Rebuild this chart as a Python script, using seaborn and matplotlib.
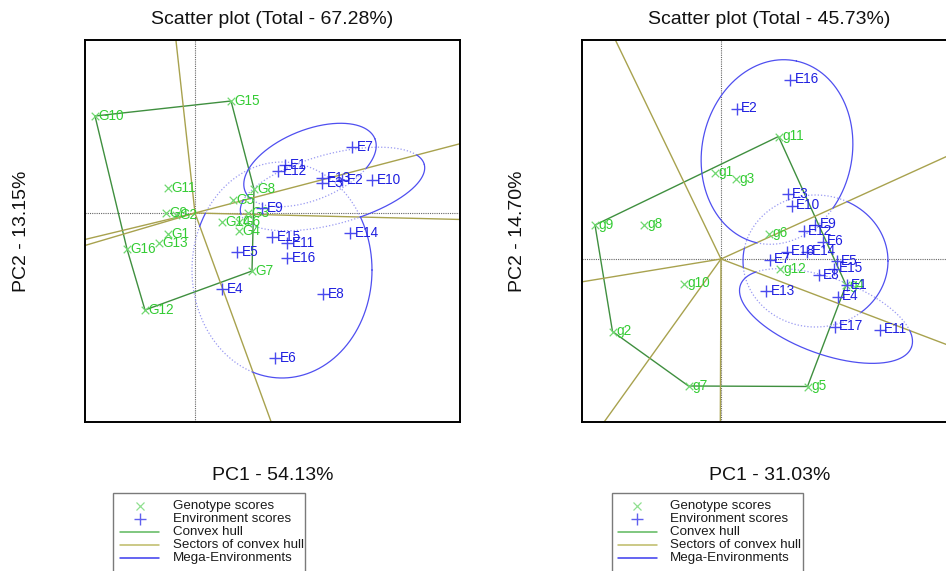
import numpy as np
import pandas as pd
import matplotlib
matplotlib.use("Agg")
import matplotlib.pyplot as plt
from matplotlib.lines import Line2D
from matplotlib.patches import Rectangle
import seaborn as sns

# ------------------------- data: left biplot -------------------------
L_title = "Scatter plot (Total - 67.28%)"
L_xlabel = "PC1 - 54.13%"
L_ylabel = "PC2 - 13.15%"
L_gen_names = ["G1", "G2", "G3", "G4", "G5", "G6", "G7", "G8",
               "G9", "G10", "G11", "G12", "G13", "G14", "G15", "G16"]
L_gen_pc1 = [-0.54, -0.38, 1.06, 0.88, 0.76, 0.88, 1.14, 1.18,
             -0.58, -2.00, -0.54, -1.00, -0.72, 0.54, 0.72, -1.36]
L_gen_pc2 = [-0.42, -0.04, 0.00, -0.36, 0.26, -0.18, -1.16, 0.48,
             0.00, 1.94, 0.50, -1.94, -0.60, -0.18, 2.24, -0.72]
L_env_names = ["E1", "E2", "E3", "E4", "E5", "E6", "E7", "E8",
               "E9", "E10", "E11", "E12", "E13", "E14", "E15", "E16"]
L_env_pc1 = [1.80, 2.94, 2.54, 0.54, 0.84, 1.60, 3.14, 2.56,
             1.34, 3.54, 1.84, 1.66, 2.54, 3.10, 1.54, 1.84]
L_env_pc2 = [0.96, 0.66, 0.60, -1.52, -0.78, -2.90, 1.32, -1.62,
             0.10, 0.66, -0.60, 0.84, 0.70, -0.40, -0.48, -0.90]
L_hull = ["G10", "G15", "G8", "G7", "G12", "G16"]
L_mega_winner = ["G15", "G8", "G7"]
L_mega_cx = [2.30, 2.75, 1.74]
L_mega_cy = [0.96, 0.48, -1.14]
L_mega_a = [1.40, 1.90, 1.80]
L_mega_b = [0.70, 0.70, 2.16]
L_mega_angle = [22, 15, 0]
L_xlim = (-2.20, 5.30)
L_ylim = (-4.18, 3.46)

# ------------------------- data: right biplot ------------------------
R_title = "Scatter plot (Total - 45.73%)"
R_xlabel = "PC1 - 31.03%"
R_ylabel = "PC2 - 14.70%"
R_gen_names = ["g1", "g2", "g3", "g4", "g5", "g6",
               "g7", "g8", "g9", "g10", "g11", "g12"]
R_gen_pc1 = [-0.12, -2.17, 0.29, 2.50, 1.73, 0.95,
             -0.65, -1.55, -2.52, -0.75, 1.15, 1.18]
R_gen_pc2 = [1.73, -1.45, 1.60, -0.52, -2.55, 0.51,
             -2.54, 0.69, 0.68, -0.49, 2.45, -0.20]
R_env_names = ["E1", "E2", "E3", "E4", "E5", "E6", "E7", "E8", "E9",
               "E10", "E11", "E12", "E13", "E14", "E15", "E16", "E17", "E18"]
R_env_pc1 = [2.51, 0.31, 1.33, 2.33, 2.31, 2.03, 0.97, 1.95, 1.88,
             1.41, 3.17, 1.65, 0.90, 1.72, 2.26, 1.38, 2.27, 1.31]
R_env_pc2 = [-0.52, 3.01, 1.30, -0.75, -0.04, 0.35, -0.01, -0.32, 0.69,
             1.07, -1.41, 0.56, -0.64, 0.15, -0.19, 3.59, -1.35, 0.15]
R_hull = ["g9", "g11", "g4", "g5", "g7", "g2"]
R_mega_winner = ["g11", "g4", "g5"]
R_mega_cx = [1.12, 1.89, 2.10]
R_mega_cy = [2.14, -0.04, -1.14]
R_mega_a = [1.86, 1.45, 1.82]
R_mega_b = [1.50, 1.32, 0.76]
R_mega_angle = [78, 0, -20]
R_xlim = (-2.78, 4.72)
R_ylim = (-3.26, 4.38)

LEGEND_LABELS = ["Genotype scores", "Environment scores", "Convex hull",
                 "Sectors of convex hull", "Mega-Environments"]

# ------------------------- style -------------------------
GEN_TXT = "#33cc33"
GEN_MK = "#70d870"
ENV_TXT = "#1f1fe0"
ENV_MK = "#4a4aee"
HULL_C = "#3f8f3f"
SECT_C = "#a8a24e"
ELL_C = "#4f4ff0"
ELL_DOT = "#9a9af2"
AXDOT = "#666666"

sns.set_theme(style="white")
plt.rcParams["font.family"] = ["Liberation Sans", "DejaVu Sans"]

W, H = 946, 571
fig = plt.figure(figsize=(W / 100, H / 100), dpi=100)
fig.patch.set_facecolor("white")


def px_axes(x0, y0, x1, y1):
    return fig.add_axes([x0 / W, 1 - y1 / H, (x1 - x0) / W, (y1 - y0) / H])


def draw_biplot(ax, gnames, gx, gy, enames, ex, ey, hull, winners,
                cx, cy, sa, sb, sang, xlim, ylim):
    ax.set_xlim(*xlim)
    ax.set_ylim(*ylim)
    ax.set_xticks([])
    ax.set_yticks([])
    for sp in ax.spines.values():
        sp.set_color("black")
        sp.set_linewidth(1.4)
    ax.axhline(0, color=AXDOT, ls=(0, (1, 1)), lw=0.8, zorder=1)
    ax.axvline(0, color=AXDOT, ls=(0, (1, 1)), lw=0.8, zorder=1)

    gpos = {n: np.array([x, y]) for n, x, y in zip(gnames, gx, gy)}
    P = np.array([gpos[n] for n in hull])

    # convex hull
    ax.plot(np.r_[P[:, 0], P[0, 0]], np.r_[P[:, 1], P[0, 1]],
            color=HULL_C, lw=1.0, zorder=2)

    # sector rays (perpendicular from origin to each hull edge)
    n = len(P)
    for i in range(n):
        p1, p2 = P[i], P[(i + 1) % n]
        d = p2 - p1
        nv = np.array([d[1], -d[0]])
        if nv @ p1 < 0:
            nv = -nv
        nv = nv / np.linalg.norm(nv)
        ax.plot([0, nv[0] * 30], [0, nv[1] * 30], color=SECT_C, lw=1.0,
                zorder=2)

    # mega-environment ellipses: solid inside own sector, dotted outside
    t = np.linspace(0, 2 * np.pi, 1441)
    for w, x0, y0, a, b, ang in zip(winners, cx, cy, sa, sb, sang):
        th = np.radians(ang)
        x = x0 + a * np.cos(t) * np.cos(th) - b * np.sin(t) * np.sin(th)
        y = y0 + a * np.cos(t) * np.sin(th) + b * np.sin(t) * np.cos(th)
        proj = np.c_[x, y] @ P.T
        win = np.array(hull)[np.argmax(proj, axis=1)]
        m = win == w
        ms = m | np.roll(m, 1) | np.roll(m, -1)
        md = (~m) | np.roll(~m, 1) | np.roll(~m, -1)
        ax.plot(np.where(md, x, np.nan), np.where(md, y, np.nan),
                color=ELL_DOT, lw=0.9, ls=(0, (1, 1.6)), zorder=2)
        ax.plot(np.where(ms, x, np.nan), np.where(ms, y, np.nan),
                color=ELL_C, lw=0.9, zorder=3)

    dg = pd.DataFrame({"pc1": gx, "pc2": gy, "name": gnames})
    de = pd.DataFrame({"pc1": ex, "pc2": ey, "name": enames})
    sns.scatterplot(data=dg, x="pc1", y="pc2", marker="x", color=GEN_MK,
                    s=30, linewidth=0.9, ax=ax, legend=False, zorder=4)
    for _, r in dg.iterrows():
        ax.annotate(r["name"], (r["pc1"], r["pc2"]), xytext=(2.5, 0.3),
                    textcoords="offset points", ha="left", va="center",
                    fontsize=9.8, color=GEN_TXT, zorder=5)
    sns.scatterplot(data=de, x="pc1", y="pc2", marker="+", color=ENV_MK,
                    s=64, linewidth=1.0, ax=ax, legend=False, zorder=6)
    for _, r in de.iterrows():
        ax.annotate(r["name"], (r["pc1"], r["pc2"]), xytext=(3.5, 0.3),
                    textcoords="offset points", ha="left", va="center",
                    fontsize=9.8, color=ENV_TXT, zorder=7)
    ax.set_xlabel("")
    ax.set_ylabel("")


def draw_legend(x0, x1, top, mk_x, ln0, ln1, tx):
    fig.add_artist(Rectangle((x0 / W, 1 - 580 / H), (x1 - x0) / W,
                             (580 - top) / H, transform=fig.transFigure,
                             fill=False, edgecolor="#7a7a7a", lw=1.0))
    rows = [top + 13 + 13 * i for i in range(5)]
    fig.add_artist(Line2D([mk_x / W], [1 - rows[0] / H], marker="x",
                          color="#8fe08f", ms=6, mew=0.9, ls="none",
                          transform=fig.transFigure))
    fig.add_artist(Line2D([mk_x / W], [1 - rows[1] / H], marker="+",
                          color="#6060ee", ms=8, mew=1.0, ls="none",
                          transform=fig.transFigure))
    for r, c in zip(rows[2:], ["#5cb85c", "#bdbb66", "#3a3aee"]):
        fig.add_artist(Line2D([ln0 / W, ln1 / W], [1 - r / H, 1 - r / H],
                              color=c, lw=1.1, transform=fig.transFigure))
    for r, lab in zip(rows, LEGEND_LABELS):
        fig.text(tx / W, 1 - r / H, lab, ha="left", va="center",
                 fontsize=9.6, color="#1a1a1a")


ax1 = px_axes(85, 40, 460, 422)
draw_biplot(ax1, L_gen_names, L_gen_pc1, L_gen_pc2, L_env_names, L_env_pc1,
            L_env_pc2, L_hull, L_mega_winner, L_mega_cx, L_mega_cy,
            L_mega_a, L_mega_b, L_mega_angle, L_xlim, L_ylim)
ax2 = px_axes(582, 40, 957, 422)
draw_biplot(ax2, R_gen_names, R_gen_pc1, R_gen_pc2, R_env_names, R_env_pc1,
            R_env_pc2, R_hull, R_mega_winner, R_mega_cx, R_mega_cy,
            R_mega_a, R_mega_b, R_mega_angle, R_xlim, R_ylim)

for cx_, title, xl, ylx, yl in [(272.5, L_title, L_xlabel, 22, L_ylabel),
                                (769.5, R_title, R_xlabel, 517, R_ylabel)]:
    fig.text(cx_ / W, 1 - 19 / H, title, ha="center", va="center",
             fontsize=14, color="#111111")
    fig.text(cx_ / W, 1 - 475 / H, xl, ha="center", va="center",
             fontsize=14, color="#111111")
    fig.text(ylx / W, 1 - 231 / H, yl, ha="center", va="center",
             rotation=90, fontsize=14, color="#111111")

draw_legend(113, 305, 493, 140, 120, 159, 173)
draw_legend(612, 803, 493, 637, 618, 657, 670)

fig.savefig("out.png", dpi=100, facecolor="white")
